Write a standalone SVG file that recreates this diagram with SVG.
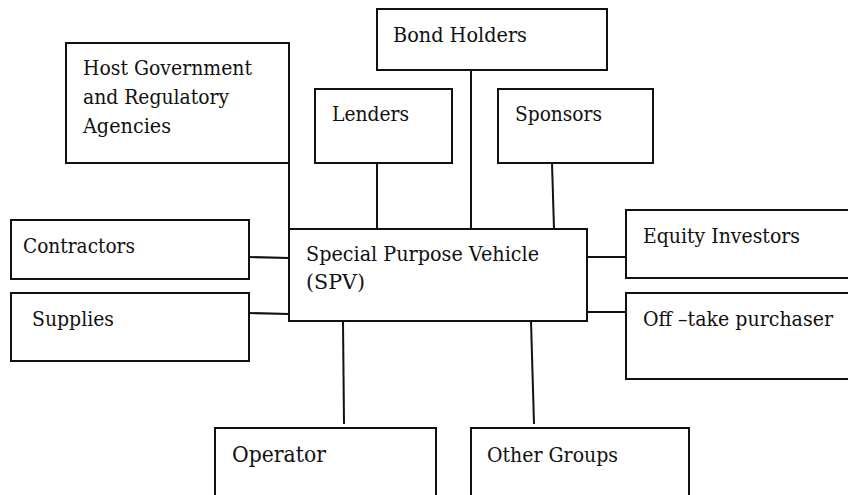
<svg xmlns="http://www.w3.org/2000/svg" width="848" height="495" viewBox="0 0 848 495">
<style>
.box{fill:#fff;stroke:#111;stroke-width:2}
.ln{stroke:#111;stroke-width:2;fill:none}
.t{font-family:'DejaVu Serif','Liberation Serif',serif;font-size:21px;fill:#111}
.sm{font-size:20px}
.big{font-size:23px}
</style>
<rect width="848" height="495" fill="#fff"/>
<g id="connectors">
<line class="ln" x1="289" y1="163" x2="289" y2="229"/>
<line class="ln" x1="377" y1="163" x2="377" y2="229"/>
<line class="ln" x1="471" y1="70" x2="471" y2="229"/>
<line class="ln" x1="552" y1="163" x2="554" y2="229"/>
<line class="ln" x1="249" y1="257" x2="289" y2="258"/>
<line class="ln" x1="249" y1="313" x2="289" y2="314"/>
<line class="ln" x1="587" y1="257" x2="626" y2="257"/>
<line class="ln" x1="587" y1="312" x2="626" y2="312"/>
<line class="ln" x1="343" y1="321" x2="344" y2="424"/>
<line class="ln" x1="531" y1="321" x2="534" y2="424"/>
</g>
<g class="t">
<g id="host"><rect class="box" x="66" y="43" width="223" height="120"/><text x="83" y="75" textLength="169" lengthAdjust="spacingAndGlyphs">Host Government</text><text x="83" y="104" textLength="146" lengthAdjust="spacingAndGlyphs">and Regulatory</text><text x="83" y="133" textLength="88" lengthAdjust="spacingAndGlyphs">Agencies</text></g>
<g id="bond"><rect class="box" x="377" y="9" width="230" height="61"/><text x="393" y="42" textLength="134" lengthAdjust="spacingAndGlyphs">Bond Holders</text></g>
<g id="lenders"><rect class="box" x="315" y="89" width="137" height="74"/><text x="332" y="121" textLength="77" lengthAdjust="spacingAndGlyphs">Lenders</text></g>
<g id="sponsors"><rect class="box" x="498" y="89" width="155" height="74"/><text x="515" y="121" textLength="87" lengthAdjust="spacingAndGlyphs">Sponsors</text></g>
<g id="spv"><rect class="box" x="289" y="229" width="298" height="92"/><text x="306" y="261" textLength="233" lengthAdjust="spacingAndGlyphs">Special Purpose Vehicle</text><text x="306" y="289" textLength="59" lengthAdjust="spacingAndGlyphs">(SPV)</text></g>
<g id="contractors"><rect class="box" x="11" y="220" width="238" height="59"/><text x="23" y="253" textLength="112" lengthAdjust="spacingAndGlyphs">Contractors</text></g>
<g id="supplies"><rect class="box" x="11" y="293" width="238" height="68"/><text x="32" y="326" textLength="82" lengthAdjust="spacingAndGlyphs">Supplies</text></g>
<g id="equity"><rect class="box" x="626" y="210" width="240" height="68"/><text x="643" y="243" textLength="157" lengthAdjust="spacingAndGlyphs">Equity Investors</text></g>
<g id="offtake"><rect class="box" x="626" y="293" width="240" height="86"/><text class="sm" x="643" y="326" textLength="190" lengthAdjust="spacingAndGlyphs">Off –take purchaser</text></g>
<g id="operator"><rect class="box" x="215" y="428" width="221" height="80"/><text class="big" x="232" y="462" textLength="94" lengthAdjust="spacingAndGlyphs">Operator</text></g>
<g id="other"><rect class="box" x="471" y="428" width="218" height="80"/><text x="487" y="462" textLength="131" lengthAdjust="spacingAndGlyphs">Other Groups</text></g>
</g>
</svg>
